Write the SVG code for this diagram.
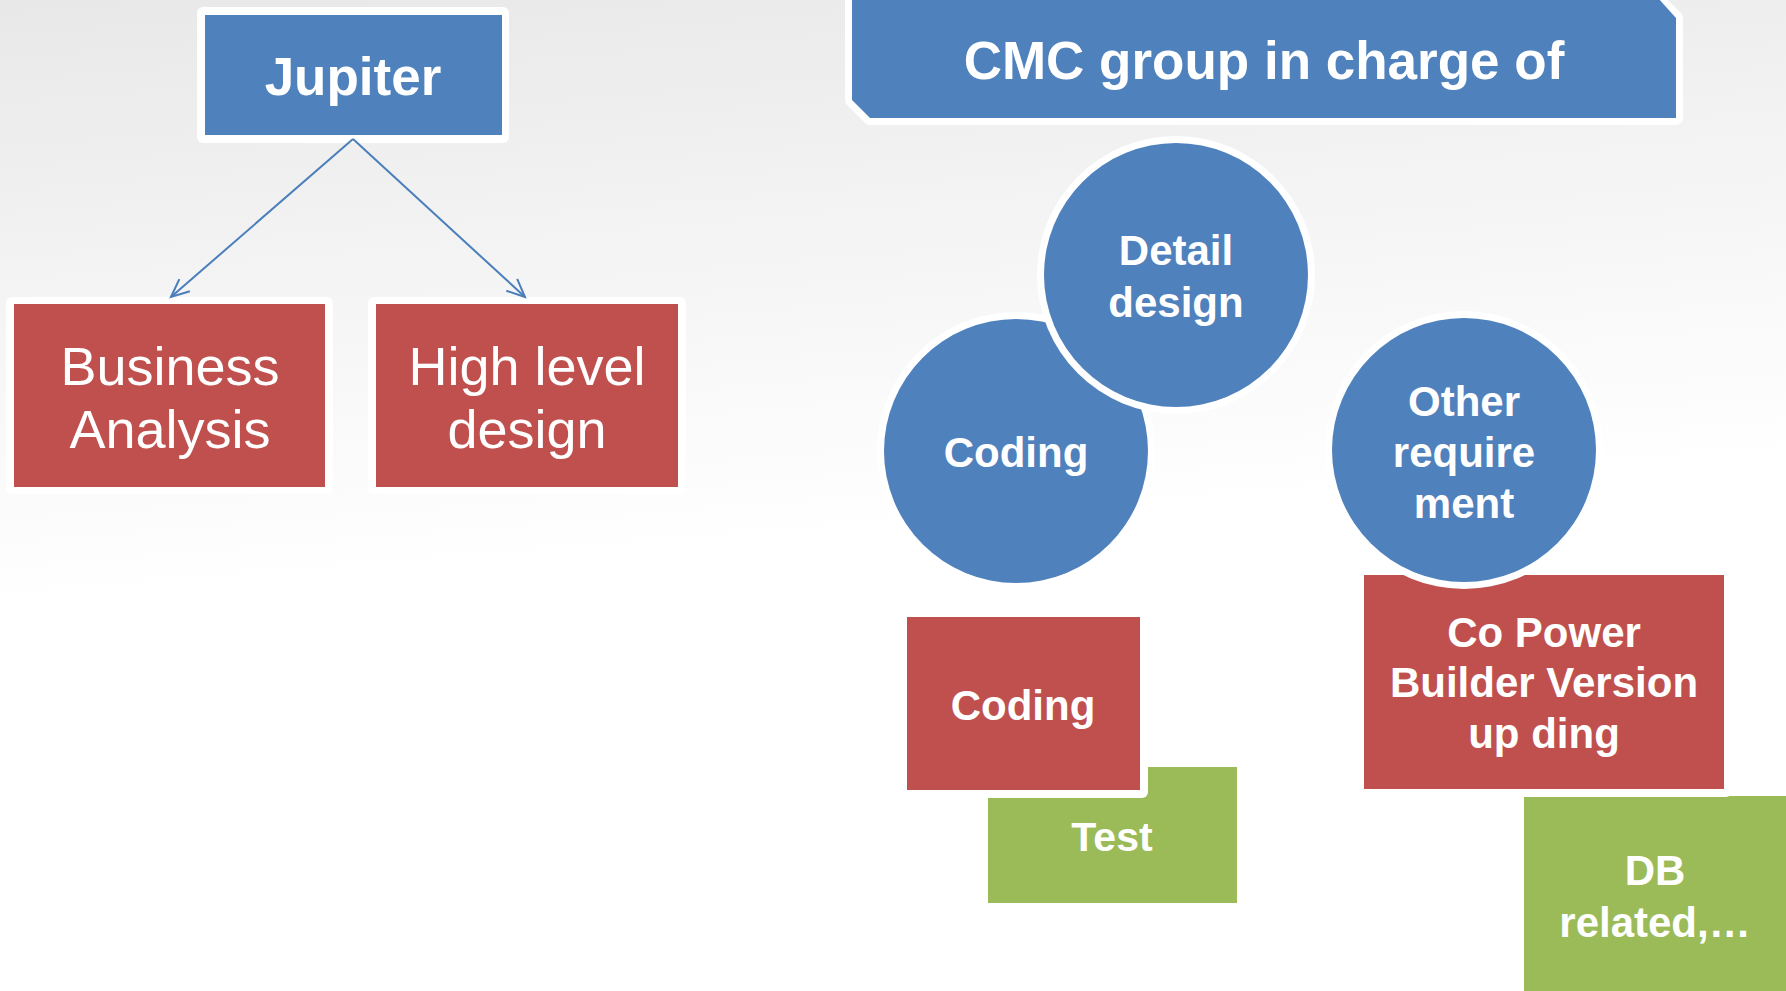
<svg xmlns="http://www.w3.org/2000/svg" width="1786" height="991" viewBox="0 0 1786 991">
<defs>
<linearGradient id="bg" x1="0" y1="0" x2="0.15" y2="1">
<stop offset="0" stop-color="#e8e8e8"/>
<stop offset="0.3" stop-color="#f4f4f4"/>
<stop offset="0.6" stop-color="#ffffff"/>
<stop offset="1" stop-color="#ffffff"/>
</linearGradient>
<marker id="arr" markerUnits="userSpaceOnUse" markerWidth="24" markerHeight="24" viewBox="0 0 24 24" refX="21" refY="12" orient="auto">
<path d="M3,4 L21,12 L3,20" fill="none" stroke="#4A7EBB" stroke-width="2"/>
</marker>
<style>
.t{font-family:"Liberation Sans",Arial,sans-serif;fill:#ffffff;text-anchor:middle}
.b{font-weight:bold}
.blue{fill:#4F81BD}
.red{fill:#C0504D}
.green{fill:#9BBB59}
.wh{fill:#ffffff}
.conn{stroke:#4A7EBB;stroke-width:2;fill:none}
</style>
</defs>
<rect x="0" y="0" width="1786" height="991" fill="url(#bg)"/>

<g id="jupiter">
<rect class="wh" x="197" y="7" width="312" height="136" rx="6"/>
<rect class="blue" x="205" y="15" width="297" height="120"/>
<text class="t b" x="353" y="95" font-size="53">Jupiter</text>
</g>

<g id="business-analysis">
<rect class="wh" x="6" y="297" width="327" height="197" rx="6"/>
<rect class="red" x="14" y="304" width="311" height="183"/>
<text class="t" x="170" y="385" font-size="54">Business</text>
<text class="t" x="170" y="448" font-size="54">Analysis</text>
</g>

<g id="high-level-design">
<rect class="wh" x="368" y="297" width="318" height="197" rx="6"/>
<rect class="red" x="376" y="304" width="302" height="183"/>
<text class="t" x="527" y="385" font-size="54">High level</text>
<text class="t" x="527" y="448" font-size="54">design</text>
</g>

<g id="connectors">
<line class="conn" x1="353" y1="139" x2="171" y2="297" marker-end="url(#arr)"/>
<line class="conn" x1="353" y1="139" x2="525" y2="297" marker-end="url(#arr)"/>
</g>

<g id="cmc-group">
<polygon points="852,0 1658,0 1676,18 1676,118 870,118 852,100" fill="#ffffff" stroke="#ffffff" stroke-width="14" stroke-linejoin="round"/>
<polygon class="blue" points="852,-2 1658,-2 1676,18 1676,118 870,118 852,100"/>
<text class="t b" x="1264" y="79" font-size="53">CMC group in charge of</text>
</g>

<g id="coding-circle">
<circle class="wh" cx="1016" cy="451" r="139"/>
<circle class="blue" cx="1016" cy="451" r="132"/>
<text class="t b" x="1016" y="467" font-size="42">Coding</text>
</g>

<g id="detail-design">
<circle class="wh" cx="1176" cy="275" r="139"/>
<circle class="blue" cx="1176" cy="275" r="132"/>
<text class="t b" x="1176" y="265" font-size="42">Detail</text>
<text class="t b" x="1176" y="317" font-size="42">design</text>
</g>

<g id="test">
<rect class="green" x="988" y="767" width="249" height="136"/>
<text class="t b" x="1112" y="851" font-size="41">Test</text>
</g>

<g id="coding-box">
<rect class="wh" x="899" y="609" width="249" height="189" rx="6"/>
<rect class="red" x="907" y="617" width="233" height="173"/>
<text class="t b" x="1023" y="720" font-size="42">Coding</text>
</g>

<g id="db-related">
<rect class="green" x="1524" y="796" width="270" height="200"/>
<text class="t b" x="1655" y="885" font-size="42">DB</text>
<text class="t b" x="1655" y="937" font-size="42">related,…</text>
</g>

<g id="co-power">
<rect class="wh" x="1356" y="567" width="376" height="230" rx="6"/>
<rect class="red" x="1364" y="575" width="360" height="214"/>
<text class="t b" x="1544" y="647" font-size="42">Co Power</text>
<text class="t b" x="1544" y="697" font-size="42">Builder Version</text>
<text class="t b" x="1544" y="748" font-size="42">up ding</text>
</g>

<g id="other-requirement">
<circle class="wh" cx="1464" cy="450" r="139"/>
<circle class="blue" cx="1464" cy="450" r="132"/>
<text class="t b" x="1464" y="416" font-size="42">Other</text>
<text class="t b" x="1464" y="467" font-size="42">require</text>
<text class="t b" x="1464" y="518" font-size="42">ment</text>
</g>
</svg>
